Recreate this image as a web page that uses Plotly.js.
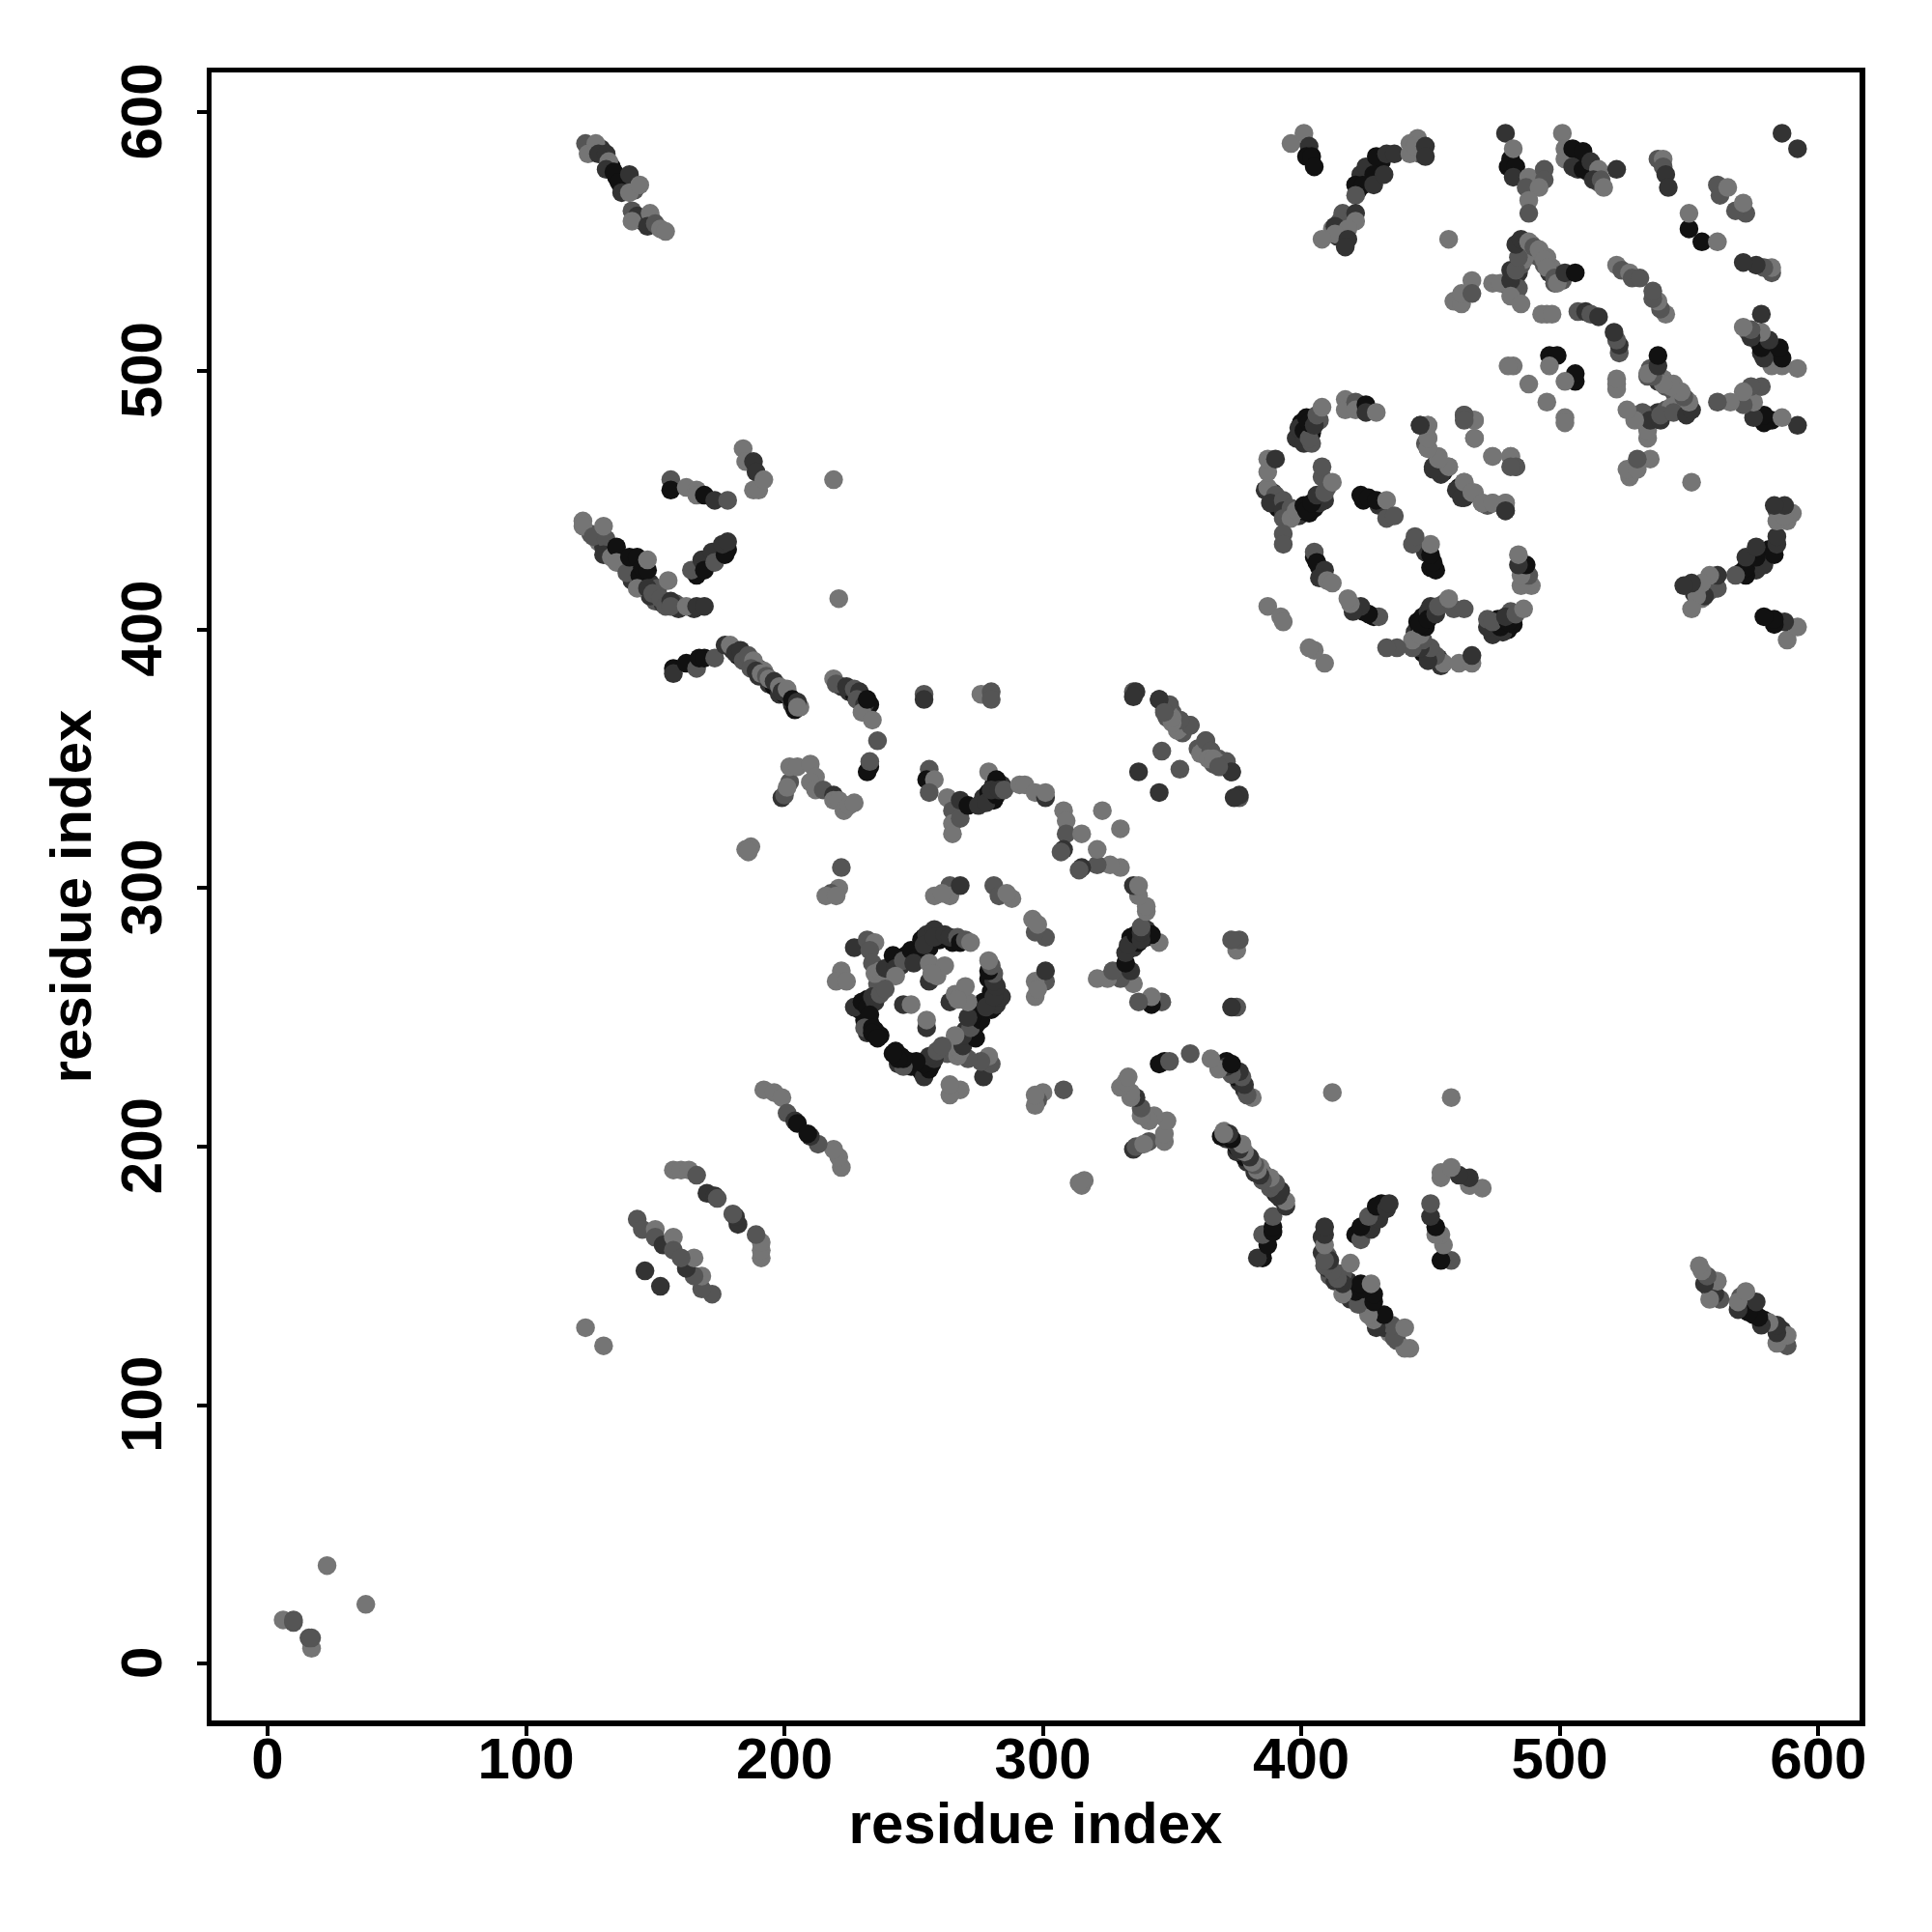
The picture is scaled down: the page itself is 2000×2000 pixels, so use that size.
<!DOCTYPE html>
<html><head><meta charset="utf-8">
<script src="https://cdn.plot.ly/plotly-3.0.1.min.js"></script>
<style>html,body{margin:0;padding:0;background:#fff}</style></head>
<body><div id="chart" style="width:2000px;height:2000px"></div>
<script>
// contacts as [residue i, residue j, shade level]; the map is symmetric so each contact is drawn at (i,j) and (j,i)
const shadeColors = ['#757575','#555555','#333333','#111111'];
const denseBackA = [[180,392,2],[182,390,3],[184,390,2],[186,388,2],[188,386,1],[190,385,1],[190,382,2],[192,384,0],[194,379,2],[196,378,3],[198,375,2],[200,375,3],[202,374,1],[203,371,2],[204,369,3],[206,370,0]];
const denseBackB = [[486,548,1],[488,547,2],[490,545,1],[492,544,1],[494,541,1],[496,538,2],[497,540,0],[500,537,1],[498,534,1],[501,535,1],[489,549,0],[493,545,0],[495,544,0],[480,533,3],[482,536,2],[483,534,1],[484,538,2],[485,541,1],[486,543,0],[487,545,0],[484,532,1]];
const denseBackC = [[398,474,2],[400,480,3],[402,476,3],[404,476,3],[405,482,2],[407,481,1],[401,472,2],[404,472,1],[397,445,3],[399,444,2],[400,446,3],[403,445,3],[405,447,3],[407,449,2],[408,451,1],[409,450,2],[410,455,1],[391,447,3],[389,453,2],[392,448,2]];
const denseBackD = [[125,437,1],[128,434,0],[130,432,2],[132,431,3],[134,430,2],[136,428,3],[138,425,3],[141,425,3],[142,424,3],[141,419,2],[145,420,3],[148,418,2],[150,411,1],[153,410,2],[151,416,1],[148,413,2],[158,410,1],[159,408,2],[165,408,2],[166,421,3],[170,425,3],[171,427,2],[174,428,3],[175,431,3],[178,431,3]];
const denseBackE = [[125,587,1],[129,586,2],[133,579,3],[135,575,3],[138,574,2],[142,570,1],[145,558,2],[149,558,1],[245,270,2],[247,274,3],[252,276,3],[254,281,3],[256,279,2],[257,283,2],[260,280,3],[265,279,3],[238,262,2],[236,263,1],[232,257,3],[229,253,3],[231,249,3],[233,248,3],[235,245,3],[232,244,2],[237,243,3]];
const denseBackF = [[277,335,2],[279,337,3],[281,340,3],[284,340,2],[281,334,3],[222,378,2],[225,376,2],[227,375,3],[230,374,2],[230,372,3],[233,371,3],[350,368,1],[352,364,2],[354,360,1],[366,348,1],[369,349,1]];
const denseBackG = [[422,570,3],[425,574,3],[427,578,3],[430,580,2],[423,576,2],[431,581,3],[414,552,2],[416,553,2],[415,558,1],[443,585,1],[446,584,1],[503,583,3],[506,582,3],[507,578,2],[510,581,3],[511,577,2],[514,576,2],[515,573,1],[506,584,3],[481,582,3],[430,448,2],[424,450,3],[405,428,3],[407,424,3],[408,421,3],[452,464,3],[448,472,1],[461,455,3]];
const nTerminal = [[6,17,0],[10,16,1],[10,17,1],[23,38,0]];
const farPairs = [[123,130,0],[219,458,0],[221,412,0],[457,551,0],[586,592,2]];
const topLeft = [[123,588,1],[124,584,0],[127,588,0],[128,584,2],[131,584,2],[132,581,0],[131,578,2],[134,577,3],[136,573,3],[140,576,2],[137,569,2],[140,569,0],[144,572,0],[141,562,1],[143,560,2],[141,558,0],[148,561,0],[147,556,2],[150,557,1],[152,555,0],[154,554,0]];
const sheetA = [[122,442,0],[122,440,0],[126,436,1],[131,435,1],[130,440,0],[130,429,2],[133,428,0],[135,432,3],[135,426,0],[139,422,1],[140,428,3],[143,428,3],[144,421,3],[145,424,3],[147,423,3],[147,427,0],[143,416,0],[147,416,2],[149,414,1],[152,412,1],[155,419,0],[154,409,1],[156,411,2],[156,409,1],[162,409,0],[166,409,2],[169,409,2]];
const sheetB = [[164,423,1],[168,427,2],[169,423,3],[172,430,2],[173,426,1],[177,429,3],[176,433,2],[178,434,2]];
const sheetC = [[156,458,1],[156,454,3],[162,455,0],[166,454,0],[166,452,0],[169,452,3],[173,450,2],[178,450,1]];
const sheetD = [[184,470,0],[185,465,0],[188,465,2],[189,461,2],[188,454,0],[190,454,0],[192,458,0]];
const bandA = [[157,385,3],[157,383,2],[162,387,3],[166,385,1],[167,389,3],[169,389,3],[173,389,1]];
const bandB = [[177,394,2],[179,394,0],[181,391,2],[183,392,2],[184,388,1],[186,390,1],[188,388,0],[187,385,1],[189,384,2],[191,383,0],[193,382,1],[194,381,0],[196,380,2],[198,378,0],[199,376,2],[201,377,0],[203,373,3],[205,372,2],[205,370,0]];
const bandC = [[219,381,0],[220,379,1],[224,378,2],[227,377,1],[229,376,2],[228,373,1],[231,371,2],[230,368,0],[232,373,3],[234,365,0],[236,357,1],[233,347,3],[232,345,3],[233,349,1]];
const bandD = [[199,335,2],[200,336,1],[202,341,1],[201,339,0],[202,347,0],[205,347,0],[210,348,0],[212,343,0],[210,341,0],[212,338,0],[215,338,1],[219,336,2],[219,334,0],[221,334,0],[223,330,0],[225,332,0],[227,333,0]];
const midSingles = [[254,375,1],[254,373,2],[276,375,0],[280,376,1],[280,373,1],[187,316,0],[185,315,0],[186,314,0],[222,308,1],[221,300,0],[218,298,1],[216,297,0],[220,297,0],[256,346,1],[255,342,3],[258,342,0],[256,337,1]];
const midBand = [[263,335,0],[265,330,1],[265,325,0],[265,321,0],[268,327,1],[268,334,2],[271,332,3],[275,332,2],[278,333,2],[279,345,0],[282,336,3],[282,342,3],[280,338,2],[283,338,2],[285,338,1],[291,340,0],[293,340,0],[297,337,0],[301,335,2],[301,337,0],[308,330,0],[309,326,0],[309,321,1],[315,321,0],[323,330,0],[308,315,2],[307,314,1]];
const midArc = [[258,297,0],[264,301,1],[264,297,0],[268,301,2],[261,298,0],[281,301,1],[283,297,1],[288,296,0],[286,298,0]];
const spiralTop = [[222,268,0],[220,264,0],[224,264,0],[227,277,2],[232,280,1],[235,279,0],[233,276,1],[234,271,1],[235,267,0],[237,268,0],[239,266,0],[239,269,2],[242,274,3],[243,269,2],[246,272,1],[243,266,0],[249,276,3],[251,273,3],[250,271,2],[253,280,3],[255,282,2],[258,284,2],[256,277,3],[254,278,2],[258,281,2],[262,282,2],[264,281,2],[267,281,1],[268,279,3],[270,280,1],[272,279,0]];
const spiralLow = [[227,254,2],[230,256,3],[232,254,3],[234,258,2],[235,256,2],[237,259,1],[239,261,1],[233,251,3],[231,246,1],[234,246,3],[234,244,3],[236,242,3],[246,255,2],[249,255,0],[256,264,2],[259,266,0],[256,271,0],[262,270,0],[257,267,0]];
const strand340 = [[335,376,1],[336,376,2],[335,374,2],[345,373,2],[349,371,1],[347,369,0],[349,367,0],[350,365,1],[353,365,0],[353,362,0],[357,363,1],[361,352,0],[363,357,1],[365,353,1],[364,350,0],[366,350,0],[371,348,1],[373,345,2],[368,347,1],[346,353,1],[337,345,2]];
const ringA = [[386,454,2],[387,455,0],[387,461,0],[387,466,0],[390,466,2],[390,452,1],[388,449,2],[393,450,1],[393,446,2],[396,447,1],[393,443,1],[396,443,0],[393,437,1],[393,433,1],[398,446,0],[401,448,3],[402,446,3],[404,449,3],[406,452,2],[409,453,1],[408,459,1],[412,457,0],[408,463,1]];
const ringB = [[399,478,2],[401,477,3],[402,482,3],[403,474,1],[403,480,3],[405,479,2],[406,483,1],[408,486,0],[417,489,0],[417,485,0],[421,488,1],[421,485,0],[425,487,3],[425,484,2],[429,484,0]];
const ringC = [[446,479,2],[449,479,0],[449,474,0],[449,470,0],[451,463,2],[453,467,0],[454,462,2],[457,463,0],[463,483,1],[467,481,0],[467,474,0],[474,467,0],[481,467,0],[483,463,1],[481,463,1],[460,454,2],[462,451,2],[463,457,0],[466,453,0],[470,449,0],[474,449,0],[479,449,0],[479,446,2]];
const ringD = [[423,452,3],[426,451,3],[429,450,3],[433,450,0],[433,443,1],[436,444,1],[405,430,1],[406,426,3],[409,423,2],[407,420,2],[410,419,0],[412,418,0],[387,409,0],[392,405,0],[393,403,0]];
const blockA = [[396,588,0],[401,592,0],[403,587,2],[402,583,3],[404,583,3],[405,579,3],[421,572,3],[424,572,3],[421,568,1],[425,579,2],[428,576,3],[428,572,2],[429,583,3],[432,576,2],[433,584,2],[436,584,2],[442,588,0],[445,590,0],[442,584,0],[444,587,0],[448,587,2],[448,583,2],[416,561,1],[421,561,2],[421,558,0],[412,555,0],[413,556,2],[418,555,0],[413,553,0],[418,551,2],[417,548,2],[408,551,0]];
const blockB = [[479,592,2],[480,579,3],[483,579,3],[482,586,0],[482,575,2],[488,575,0],[487,571,1],[494,578,1],[494,574,1],[492,571,0],[488,566,0],[488,561,1],[501,592,0],[502,586,0],[502,582,0],[505,586,3],[505,579,2],[509,585,3],[509,578,3],[512,581,2],[515,578,0],[513,574,2],[516,574,1],[517,571,0],[522,578,2]];
const blockC = [[538,582,1],[540,582,0],[540,579,1],[541,576,2],[542,571,2],[561,572,1],[562,568,1],[565,571,0],[550,555,3],[550,561,0]];
const blockD = [[459,527,0],[462,526,0],[462,530,0],[466,535,0],[466,530,1],[474,534,0],[477,534,0],[481,535,2],[481,539,2],[483,539,1],[484,544,1],[481,529,0],[485,526,0],[483,549,2],[485,551,2],[488,550,0],[490,548,1],[492,547,0],[494,543,0],[495,540,0],[498,536,1],[499,534,0],[502,538,2],[506,538,3]];
const blockE = [[495,522,0],[493,522,0],[497,522,0],[507,523,1],[510,523,2],[512,522,1],[515,521,2],[522,541,0],[524,539,1],[527,538,0],[528,536,1],[531,536,1],[496,506,3],[499,506,3],[496,502,0],[482,502,0],[480,502,0],[488,495,0]];
const lowerA = [[143,172,1],[145,168,1],[146,152,2],[150,168,0],[150,165,1],[153,162,2],[157,165,0],[157,160,1]];
const lowerB = [[157,191,0],[160,191,0],[163,191,0],[166,189,1],[170,182,2],[173,181,2],[174,180,1]];
const lowerC = [[192,222,0],[196,221,0],[199,219,0],[201,213,1],[204,210,2],[205,209,3]];
const tickValues = [0,100,200,300,400,500,600];

const groups = [denseBackA,denseBackB,denseBackC,denseBackD,denseBackE,denseBackF,denseBackG,nTerminal,farPairs,topLeft,sheetA,sheetB,sheetC,sheetD,bandA,bandB,bandC,bandD,midSingles,midBand,midArc,spiralTop,spiralLow,strand340,ringA,ringB,ringC,ringD,blockA,blockB,blockC,blockD,blockE,lowerA,lowerB,lowerC];
const xs=[], ys=[], cs=[];
groups.forEach(g=>{g.forEach(c=>{xs.push(c[0]);ys.push(c[1]);cs.push(shadeColors[c[2]]);xs.push(c[1]);ys.push(c[0]);cs.push(shadeColors[c[2]]);});});

const axisBase = {tickmode:'array',tickvals:tickValues,ticktext:tickValues.map(String),showgrid:false,zeroline:false,showline:true,mirror:true,linecolor:'#000',linewidth:5.5,ticks:'outside',ticklen:10,tickwidth:4,tickcolor:'#000'};
const labelFont = {family:'Liberation Sans',size:60,color:'#000',weight:700};
Plotly.newPlot('chart',[{type:'scatter',mode:'markers',x:xs,y:ys,marker:{size:19.5,color:cs,line:{width:0}},hoverinfo:'skip',cliponaxis:false}],{
 width:2000,height:2000,paper_bgcolor:'#fff',plot_bgcolor:'#fff',showlegend:false,
 margin:{l:219.2,r:74.5,t:75.4,b:219.2},
 xaxis:Object.assign({},axisBase,{range:[-21.7,616],tickangle:0,tickfont:labelFont,ticklabelstandoff:-28,title:{text:'residue index',standoff:12.5,font:labelFont}}),
 yaxis:Object.assign({},axisBase,{range:[-21.9,615.5],tickangle:-90,tickfont:labelFont,ticklabelstandoff:13,ticklabelshift:8,title:{text:'residue index',standoff:0,font:labelFont}})
},{displayModeBar:false,staticPlot:true});
</script></body></html>
